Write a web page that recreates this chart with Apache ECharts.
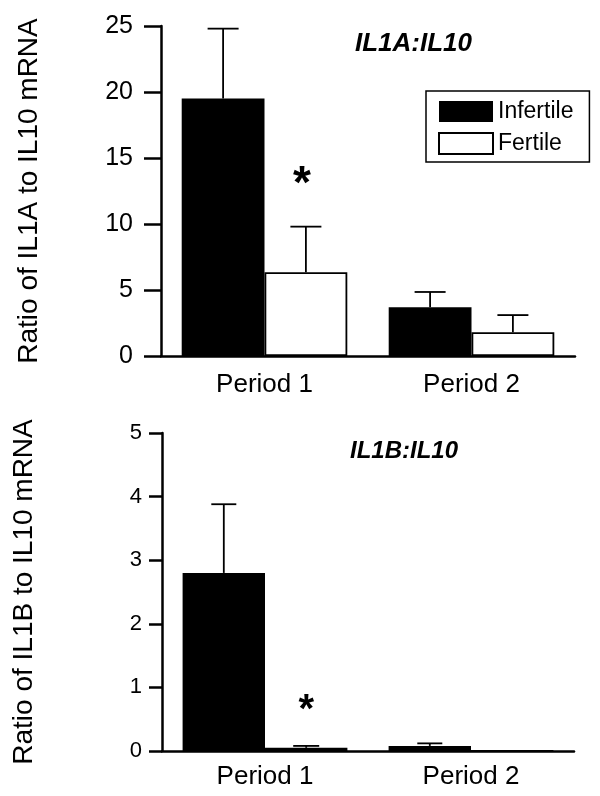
<!DOCTYPE html>
<html>
<head>
<meta charset="utf-8">
<script src="https://cdn.jsdelivr.net/npm/echarts@6/dist/echarts.min.js"></script>
<style>
html,body{margin:0;padding:0;background:#fff;}
#c{width:600px;height:796px;}
</style>
</head>
<body>
<div id="c"></div>
<script>
// ---- data ----
const categories = ['Period 1', 'Period 2'];
const seriesNames = ['Infertile', 'Fertile'];

// Top panel: IL1A:IL10
const topTitle = 'IL1A:IL10';
const topYName = 'Ratio of IL1A to IL10 mRNA';
const topInfertile = [19.5, 3.7];
const topFertile = [6.35, 1.8];
const topInfertileErr = [5.3, 1.15];
const topFertileErr = [3.45, 1.3];
const topSig = [12.9, null];      // asterisk height for Fertile
const topYMax = 25, topYStep = 5;

// Bottom panel: IL1B:IL10
const botTitle = 'IL1B:IL10';
const botYName = 'Ratio of IL1B to IL10 mRNA';
const botInfertile = [2.8, 0.08];
const botFertile = [0.05, 0];
const botInfertileErr = [1.08, 0.04];
const botFertileErr = [0.03, 0];
const botSig = [0.63, null];
const botYMax = 5, botYStep = 1;

const FONT = '"Liberation Sans", Arial, Helvetica, sans-serif';

function errSeries(gridIdx, values, errs, side, capW, sig, sigSize, sigShift) {
  return {
    type: 'custom',
    xAxisIndex: gridIdx, yAxisIndex: gridIdx,
    z: 5,
    silent: true,
    data: values.map((v, i) => [i, v, errs[i], sig ? sig[i] : null]),
    renderItem: function (params, api) {
      const idx = api.value(0);
      const mean = api.value(1);
      const err = api.value(2);
      const s = api.value(3);
      const band = api.size([1, 0])[0];
      const base = api.coord([idx, mean]);
      const x = base[0] + side * 0.2 * band;
      const children = [];
      if (err > 0) {
        const top = api.coord([idx, mean + err])[1];
        const st = { stroke: '#000', lineWidth: 1.8 };
        children.push({ type: 'line', shape: { x1: x, y1: base[1], x2: x, y2: top }, style: st });
        children.push({ type: 'line', shape: { x1: x - capW / 2, y1: top, x2: x + capW / 2, y2: top }, style: st });
      }
      if (s !== null && s !== undefined && !isNaN(s)) {
        const sy = api.coord([idx, s])[1];
        children.push({ type: 'text', x: x + sigShift, y: sy, style: {
          text: '*', fill: '#000', font: 'bold ' + sigSize + 'px ' + FONT,
          align: 'center', verticalAlign: 'middle' } });
      }
      return { type: 'group', children: children };
    }
  };
}

const axisLineStyle = { color: '#000', width: 2.5 };

const option = {
  animation: false,
  backgroundColor: '#fff',
  textStyle: { fontFamily: FONT, color: '#000' },
  title: [
    { text: topTitle, left: 355, top: 31, padding: 0,
      textStyle: { fontFamily: FONT, fontSize: 26, fontWeight: 'bold', fontStyle: 'italic', color: '#000' } },
    { text: botTitle, left: 350, top: 439, padding: 0,
      textStyle: { fontFamily: FONT, fontSize: 24, fontWeight: 'bold', fontStyle: 'italic', color: '#000' } }
  ],
  legend: {
    data: seriesNames,
    orient: 'vertical',
    left: 426, top: 91,
    padding: [9, 16, 7, 12],
    borderColor: '#000', borderWidth: 1.5,
    itemWidth: 54, itemHeight: 21, itemGap: 9,
    icon: 'rect',
    textStyle: { fontFamily: FONT, fontSize: 23, color: '#000' },
    selectedMode: false
  },
  grid: [
    { left: 161, right: 25, top: 26, bottom: 440 },
    { left: 162, right: 26, top: 433, bottom: 45 }
  ],
  xAxis: [
    { type: 'category', gridIndex: 0, data: categories,
      axisLine: { lineStyle: axisLineStyle }, axisTick: { show: false },
      axisLabel: { fontFamily: FONT, fontSize: 26, color: '#000', margin: 16 } },
    { type: 'category', gridIndex: 1, data: categories,
      axisLine: { lineStyle: axisLineStyle }, axisTick: { show: false },
      axisLabel: { fontFamily: FONT, fontSize: 26, color: '#000', margin: 13 } }
  ],
  yAxis: [
    { type: 'value', gridIndex: 0, min: 0, max: topYMax, interval: topYStep,
      name: topYName, nameLocation: 'middle', nameGap: 118, nameRotate: 90,
      nameTextStyle: { fontFamily: FONT, fontSize: 28, color: '#000' },
      axisLine: { show: true, lineStyle: axisLineStyle },
      axisTick: { show: true, length: 17, lineStyle: axisLineStyle },
      splitLine: { show: false },
      axisLabel: { fontFamily: FONT, fontSize: 25, color: '#000', margin: 28 } },
    { type: 'value', gridIndex: 1, min: 0, max: botYMax, interval: botYStep,
      name: botYName, nameLocation: 'middle', nameGap: 124, nameRotate: 90,
      nameTextStyle: { fontFamily: FONT, fontSize: 28, color: '#000' },
      axisLine: { show: true, lineStyle: axisLineStyle },
      axisTick: { show: true, length: 13, lineStyle: axisLineStyle },
      splitLine: { show: false },
      axisLabel: { fontFamily: FONT, fontSize: 22, color: '#000', margin: 20 } }
  ],
  series: [
    { name: seriesNames[0], type: 'bar', xAxisIndex: 0, yAxisIndex: 0, data: topInfertile,
      barGap: '0%', barCategoryGap: '20%', itemStyle: { color: '#000' } },
    { name: seriesNames[1], type: 'bar', xAxisIndex: 0, yAxisIndex: 0, data: topFertile,
      barGap: '0%', barCategoryGap: '20%',
      itemStyle: { color: '#fff', borderColor: '#000', borderWidth: 1.8 } },
    { name: seriesNames[0], type: 'bar', xAxisIndex: 1, yAxisIndex: 1, data: botInfertile,
      barGap: '0%', barCategoryGap: '20%', itemStyle: { color: '#000' } },
    { name: seriesNames[1], type: 'bar', xAxisIndex: 1, yAxisIndex: 1, data: botFertile,
      barGap: '0%', barCategoryGap: '20%',
      itemStyle: { color: '#fff', borderColor: '#000', borderWidth: 1.8 } },
    errSeries(0, topInfertile, topInfertileErr, -1, 31, null, 0, 0),
    errSeries(0, topFertile, topFertileErr, 1, 31, topSig, 46, -4),
    errSeries(1, botInfertile, botInfertileErr, -1, 25, null, 0, 0),
    errSeries(1, botFertile, botFertileErr, 1, 26, botSig, 40, 0)
  ]
};

const chart = echarts.init(document.getElementById('c'), null, { renderer: 'canvas' });
chart.setOption(option);
</script>
</body>
</html>
